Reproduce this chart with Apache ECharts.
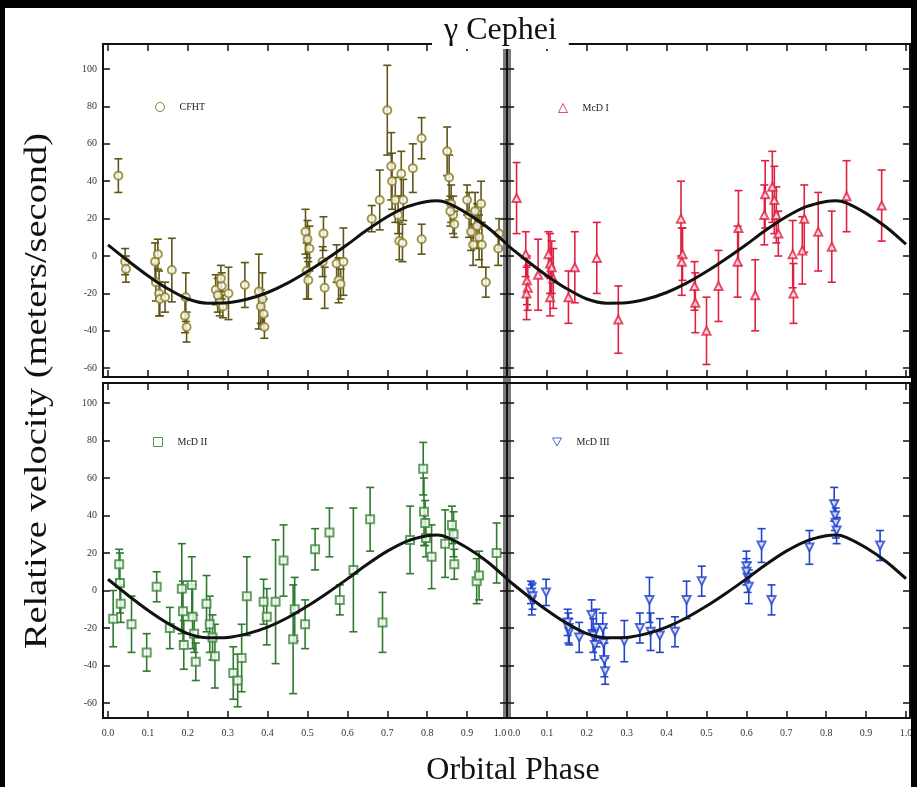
<!DOCTYPE html>
<html>
<head>
<meta charset="utf-8">
<title>gamma Cephei</title>
<script src="https://cdn.jsdelivr.net/npm/echarts@6/dist/echarts.min.js"></script>
<style>
  html, body { margin: 0; padding: 0; background: #fff; }
  #chart { width: 917px; height: 787px; }
</style>
</head>
<body>
<div id="chart"></div>
<script>
// tick values
var phaseTicks = [0.0, 0.1, 0.2, 0.3, 0.4, 0.5, 0.6, 0.7, 0.8, 0.9, 1.0];
var velTicks = [-60, -40, -20, 0, 20, 40, 60, 80, 100];

// orbit fit
var fitPhase = [0, 0.05, 0.1, 0.15, 0.2, 0.25, 0.3, 0.35, 0.4, 0.45, 0.5, 0.55, 0.6, 0.65, 0.7, 0.75, 0.8, 0.825, 0.85, 0.9, 0.95, 1.0];
var fitVel = [6, -2.5, -10.5, -17.5, -23, -25.2, -25, -23, -19.5, -14.5, -8.3, -1.3, 6.2, 14, 21, 26.4, 29.2, 29.6, 28.4, 22.8, 15.5, 6.3];

// [phase, velocity, error]
var cfht = [
  [0.026, 43, 9], [0.043, -3, 7], [0.045, -7, 7],
  [0.118, -3, 10], [0.125, 1, 8], [0.12, -14, 10], [0.128, -20, 12], [0.13, -23, 9], [0.143, -22, 8],
  [0.16, -7.5, 17], [0.195, -22, 13], [0.193, -32, 9], [0.197, -38, 8],
  [0.27, -18, 8], [0.275, -21, 9], [0.28, -25, 7], [0.285, -16, 7], [0.288, -27, 6], [0.283, -12, 7],
  [0.302, -20, 14], [0.343, -15.5, 12],
  [0.378, -19, 20], [0.383, -27, 9], [0.39, -31, 8], [0.392, -38, 6], [0.387, -23, 14],
  [0.495, 13, 12], [0.5, 9, 10], [0.505, 4, 12], [0.498, -8, 15], [0.502, -13, 10],
  [0.54, 12, 9], [0.538, -3, 8], [0.543, -17, 11],
  [0.573, -4, 10], [0.578, -13, 12], [0.583, -15, 8], [0.59, -3, 18],
  [0.661, 20, 7], [0.681, 30, 16], [0.70, 78, 24],
  [0.71, 48, 18], [0.712, 40, 15], [0.72, 30, 12], [0.727, 22, 10], [0.73, 8, 10], [0.735, 44, 12], [0.738, 7, 10], [0.74, 30, 11],
  [0.764, 47, 13], [0.786, 63, 11], [0.786, 9, 8],
  [0.85, 56, 13], [0.855, 42, 12], [0.86, 28, 10], [0.865, 22, 10], [0.868, 17, 7], [0.858, 24, 8],
  [0.9, 30, 8], [0.905, 22, 12], [0.91, 13, 10], [0.915, 6, 11], [0.92, 24, 10], [0.925, 16, 12], [0.93, 10, 12], [0.935, 28, 12], [0.937, 6, 12],
  [0.947, -14, 8], [0.978, 4, 9], [0.98, 12, 8]
];

var mcd1 = [
  [0.024, 31, 19], [0.047, 1, 12], [0.05, -13, 13], [0.052, -17, 12], [0.049, -20, 14],
  [0.078, -10, 19], [0.104, 1, 12], [0.108, -4, 16], [0.112, -6, 14], [0.108, -22, 10], [0.116, -12, 16],
  [0.154, -22, 14], [0.17, -6, 19], [0.225, -1, 19], [0.279, -34, 18],
  [0.436, 20, 20], [0.44, 1, 14], [0.438, -3, 18], [0.47, -16, 13], [0.472, -25, 16],
  [0.5, -40, 18], [0.53, -16, 19], [0.58, 15, 20], [0.578, -3, 19], [0.622, -21, 19],
  [0.647, 33, 18], [0.645, 22, 16], [0.665, 37, 19], [0.67, 30, 18], [0.675, 22, 15], [0.68, 12, 12],
  [0.716, 1, 18], [0.718, -20, 16], [0.74, 3, 18], [0.745, 20, 18],
  [0.78, 13, 21], [0.814, 5, 19], [0.851, 32, 19], [0.939, 27, 19]
];

var mcd2 = [
  [0.013, -15, 15], [0.028, 14, 8], [0.03, 4, 16], [0.032, -7, 10], [0.059, -18, 15],
  [0.097, -33, 10], [0.122, 2, 8], [0.155, -20, 11],
  [0.185, 1, 24], [0.188, -11, 16], [0.19, -29, 13],
  [0.21, 3, 15], [0.212, -14, 17], [0.216, -23, 10], [0.22, -38, 10],
  [0.247, -7, 15], [0.255, -18, 15], [0.262, -25, 12], [0.268, -35, 17],
  [0.314, -44, 14], [0.325, -48, 14], [0.335, -36, 18], [0.348, -3, 21],
  [0.39, -6, 12], [0.398, -14, 15], [0.42, -6, 33], [0.44, 16, 19],
  [0.464, -26, 29], [0.468, -10, 17], [0.494, -18, 13], [0.519, 22, 11], [0.555, 31, 13],
  [0.581, -5, 8], [0.615, 11, 33], [0.657, 38, 17], [0.688, -17, 16], [0.757, 27, 18],
  [0.79, 65, 14], [0.792, 42, 18], [0.795, 36, 12], [0.797, 28, 10], [0.811, 18, 17],
  [0.845, 25, 18], [0.862, 35, 10], [0.868, 14, 8], [0.866, 30, 12],
  [0.924, 5, 12], [0.93, 8, 13], [0.974, 20, 16]
];

var mcd3 = [
  [0.06, -1, 6], [0.062, -5, 8], [0.064, -3, 7], [0.098, -1, 7],
  [0.152, -17, 7], [0.156, -22, 7], [0.154, -20, 8], [0.181, -25, 8],
  [0.212, -13, 8], [0.216, -24, 9], [0.22, -29, 8], [0.224, -20, 10],
  [0.24, -20, 8], [0.242, -28, 8], [0.244, -37, 9], [0.246, -43, 7],
  [0.294, -27, 11], [0.333, -20, 8], [0.357, -5, 12], [0.36, -22, 10], [0.383, -24, 9],
  [0.421, -22, 8], [0.45, -5, 10], [0.488, 5, 8],
  [0.6, 13, 8], [0.603, 7, 8], [0.606, 2, 9], [0.6, 10, 7],
  [0.638, 24, 9], [0.663, -5, 8], [0.758, 23, 9],
  [0.82, 46, 9], [0.822, 40, 8], [0.824, 36, 8], [0.826, 32, 7], [0.935, 24, 8]
];

var serif = 'Liberation Serif';
var ink = '#111';

var myChart = echarts.init(document.getElementById('chart'));

function fitLine() {
  var out = [];
  for (var i = 0; i < fitPhase.length; i++) out.push([fitPhase[i], fitVel[i]]);
  return out;
}

function errorBar(params, api) {
  var x = api.value(0), y = api.value(1), e = api.value(2);
  var hi = api.coord([x, y + e]);
  var lo = api.coord([x, y - e]);
  var w = 4;
  var st = { stroke: api.visual('color'), lineWidth: 1.6 };
  return {
    type: 'group',
    children: [
      { type: 'line', shape: { x1: hi[0], y1: hi[1], x2: lo[0], y2: lo[1] }, style: st },
      { type: 'line', shape: { x1: hi[0] - w, y1: hi[1], x2: hi[0] + w, y2: hi[1] }, style: st },
      { type: 'line', shape: { x1: lo[0] - w, y1: lo[1], x2: lo[0] + w, y2: lo[1] }, style: st }
    ]
  };
}

function phaseLabel(side) {
  return function (v) {
    var t = v.toFixed(1);
    if (side === 'left' && v === 1) return '{e|' + t + '}';
    if (side === 'right' && v === 0) return '{s|' + t + '}';
    return t;
  };
}

function xAxisOf(grid, min, max, pos, side) {
  return {
    type: 'value', gridIndex: grid, min: min, max: max, position: pos,
    axisLine: { show: true, onZero: false, lineStyle: { color: ink, width: 2 } },
    axisTick: { show: true, inside: true, length: 7, customValues: phaseTicks, lineStyle: { color: ink, width: 1.5 } },
    axisLabel: {
      show: !!side, customValues: phaseTicks, margin: 10, fontSize: 10, fontFamily: serif, color: '#333',
      formatter: phaseLabel(side),
      rich: { e: { padding: [0, 14, 0, 0], fontSize: 10, fontFamily: serif, color: '#333' },
              s: { padding: [0, 0, 0, 14], fontSize: 10, fontFamily: serif, color: '#333' } }
    },
    splitLine: { show: false }
  };
}

function yAxisOf(grid, min, max, pos, labels) {
  return {
    type: 'value', gridIndex: grid, min: min, max: max, position: pos,
    axisLine: { show: true, onZero: false, lineStyle: { color: ink, width: 2 } },
    axisTick: { show: true, inside: true, length: 7, customValues: velTicks, lineStyle: { color: ink, width: 1.5 } },
    axisLabel: { show: labels, customValues: velTicks, margin: 6, fontSize: 10, fontFamily: serif, color: '#333' },
    splitLine: { show: false }
  };
}

function panelSeries(name, data, idx, symbol, rotate, barColor, symColor) {
  return [
    {
      type: 'custom', name: name + ' err', xAxisIndex: idx, yAxisIndex: idx,
      renderItem: errorBar, itemStyle: { color: barColor }, encode: { x: 0, y: 1 },
      data: data, z: 2, silent: true
    },
    {
      type: 'scatter', name: name, xAxisIndex: idx, yAxisIndex: idx,
      symbol: symbol, symbolSize: 8, symbolRotate: rotate,
      itemStyle: { color: symColor, borderWidth: 1 },
      data: data.map(function (d) { return [d[0], d[1]]; }), z: 3
    },
    {
      type: 'line', name: name + ' fit', xAxisIndex: idx, yAxisIndex: idx,
      data: fitLine(), smooth: 0.3, showSymbol: false, symbol: 'none',
      lineStyle: { color: ink, width: 3 }, z: 5, silent: true
    }
  ];
}

function legendOf(name, left, top, color, icon) {
  return {
    data: [{ name: name, icon: icon }], left: left, top: top, itemWidth: 9, itemHeight: 9,
    itemStyle: { color: '#fff', borderColor: color, borderWidth: 1 },
    textStyle: { fontFamily: serif, fontSize: 10, color: '#222', padding: [0, 0, 0, 10] },
    selectedMode: false
  };
}

var topMin = -64.7, topMax = 113.4;
var botMin = -68, botMax = 110.7;
var leftMin = -0.0125, leftMax = 1.0;
var rightMin = 0, rightMax = 1.01;

var option = {
  backgroundColor: '#fff',
  animation: false,
  title: {
    text: 'γ Cephei', left: 432, top: 15,
    backgroundColor: '#fff', padding: [0, 12, 2, 12],
    textStyle: { fontFamily: serif, fontSize: 32, fontWeight: 'normal', color: ink }
  },
  legend: [
    legendOf('CFHT', 150, 97, '#6d621c', 'circle'),
    legendOf('McD I', 553, 98, '#e02040', 'triangle'),
    legendOf('McD II', 148, 432, '#2f7a2f', 'rect'),
    legendOf('McD III', 547, 432, '#2244cc', 'path://M0,0 L10,0 L5,9 Z')
  ],
  grid: [
    { left: 103, top: 44, width: 404, height: 333 },
    { left: 507, top: 44, width: 403, height: 333 },
    { left: 103, top: 383, width: 404, height: 335 },
    { left: 507, top: 383, width: 403, height: 335 }
  ],
  xAxis: [
    xAxisOf(0, leftMin, leftMax, 'bottom', null),
    xAxisOf(1, rightMin, rightMax, 'bottom', null),
    xAxisOf(2, leftMin, leftMax, 'bottom', 'left'),
    xAxisOf(3, rightMin, rightMax, 'bottom', 'right'),
    xAxisOf(0, leftMin, leftMax, 'top', null),
    xAxisOf(1, rightMin, rightMax, 'top', null),
    xAxisOf(2, leftMin, leftMax, 'top', null),
    xAxisOf(3, rightMin, rightMax, 'top', null)
  ],
  yAxis: [
    yAxisOf(0, topMin, topMax, 'left', true),
    yAxisOf(1, topMin, topMax, 'left', false),
    yAxisOf(2, botMin, botMax, 'left', true),
    yAxisOf(3, botMin, botMax, 'left', false),
    yAxisOf(0, topMin, topMax, 'right', false),
    yAxisOf(1, topMin, topMax, 'right', false),
    yAxisOf(2, botMin, botMax, 'right', false),
    yAxisOf(3, botMin, botMax, 'right', false)
  ],
  graphic: [
    { type: 'rect', z: -1, shape: { x: 503, y: 36, width: 8, height: 682 }, style: { fill: '#7a7a7a' } },
    { type: 'text', x: 38, y: 391, rotation: Math.PI / 2, scaleX: 1.2,
      style: { text: 'Relative velocity (meters/second)', font: '32px "Liberation Serif"', fill: ink, textAlign: 'center', textVerticalAlign: 'middle' } },
    { type: 'text', x: 513, y: 771,
      style: { text: 'Orbital Phase', font: '32px "Liberation Serif"', fill: ink, textAlign: 'center', textVerticalAlign: 'middle' } },
    { type: 'rect', z: 100, shape: { x: 0, y: 0, width: 917, height: 8 }, style: { fill: '#000' } },
    { type: 'rect', z: 100, shape: { x: 0, y: 0, width: 5, height: 787 }, style: { fill: '#000' } },
    { type: 'rect', z: 100, shape: { x: 911, y: 0, width: 6, height: 787 }, style: { fill: '#000' } }
  ],
  series: [].concat(
    panelSeries('CFHT', cfht, 0, 'emptyCircle', 0, '#5f5618', '#8b7d1e'),
    panelSeries('McD I', mcd1, 1, 'emptyTriangle', 0, '#e02040', '#e02040'),
    panelSeries('McD II', mcd2, 2, 'emptyRect', 0, '#2f7a2f', '#3a8a3a'),
    panelSeries('McD III', mcd3, 3, 'emptyTriangle', 180, '#2244cc', '#2244cc')
  )
};

myChart.setOption(option);
</script>
</body>
</html>
